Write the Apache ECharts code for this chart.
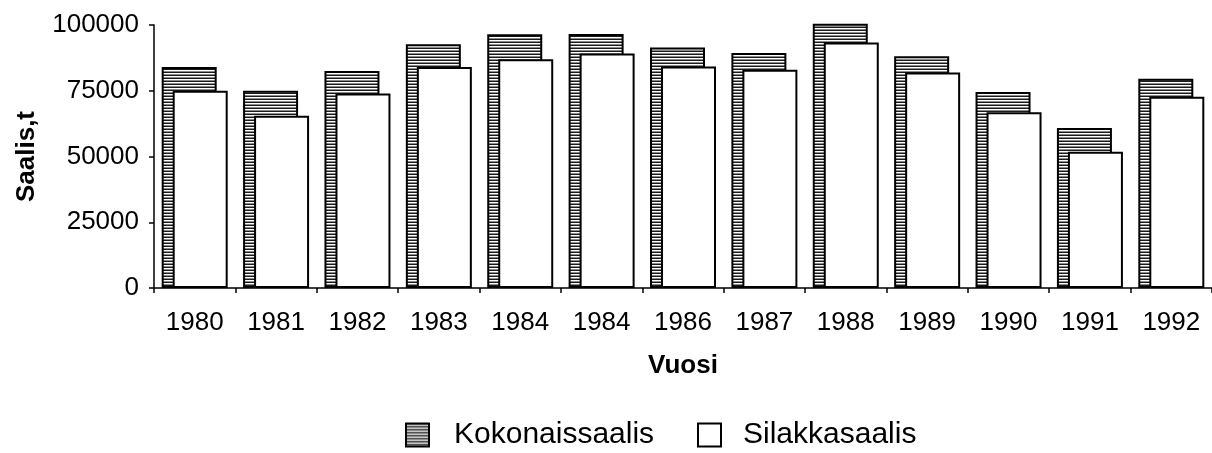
<!DOCTYPE html>
<html>
<head>
<meta charset="utf-8">
<script src="https://cdn.jsdelivr.net/npm/echarts@6/dist/echarts.min.js"></script>
<style>
html,body{margin:0;padding:0;background:#fff;}
#chart{width:1212px;height:453px;}
</style>
</head>
<body>
<div id="chart"></div>
<script>
const years = ['1980','1981','1982','1983','1984','1984','1986','1987','1988','1989','1990','1991','1992'];
const kokonaissaalis = [84000, 75000, 82500, 92700, 96500, 96600, 91400, 89400, 100500, 88100, 74500, 60800, 79600];
const silakkasaalis = [75000, 65500, 74000, 84000, 87000, 89200, 84200, 83000, 93300, 81900, 66800, 51800, 72700];
const yTicks = [0, 25000, 50000, 75000, 100000];

function makePattern() {
  const c = document.createElement('canvas');
  c.width = 4; c.height = 3;
  const g = c.getContext('2d');
  g.fillStyle = '#ffffff'; g.fillRect(0, 0, 4, 3);
  g.fillStyle = '#1a1a1a'; g.fillRect(0, 0, 4, 1);
  g.fillStyle = '#8a8a8a'; g.fillRect(0, 2, 4, 1);
  return c;
}
const pattern = { image: makePattern(), repeat: 'repeat' };
const FONT = 'Liberation Sans';

const chart = echarts.init(document.getElementById('chart'), null, { renderer: 'canvas' });
chart.setOption({
  animation: false,
  backgroundColor: '#ffffff',
  textStyle: { fontFamily: FONT, color: '#000' },
  grid: { left: 154, top: 25, width: 1064, height: 263, containLabel: false },
  legend: [
    {
      top: 420, left: 405, padding: 0,
      itemWidth: 23, itemHeight: 23, icon: 'rect',
      textStyle: { fontFamily: FONT, fontSize: 30, color: '#000', padding: [0, 0, 0, 20] },
      data: ['Kokonaissaalis']
    },
    {
      top: 420, left: 697, padding: 0,
      itemWidth: 23, itemHeight: 23, icon: 'rect',
      textStyle: { fontFamily: FONT, fontSize: 30, color: '#000', padding: [0, 0, 0, 17] },
      data: ['Silakkasaalis']
    }
  ],
  xAxis: {
    type: 'category',
    data: years,
    name: 'Vuosi',
    nameLocation: 'middle',
    nameGap: 65,
    nameTextStyle: { fontFamily: FONT, fontSize: 26, fontWeight: 'bold', color: '#000' },
    axisLine: { lineStyle: { color: '#000', width: 1.5 } },
    axisTick: { show: true, length: 5, lineStyle: { color: '#000', width: 1.5 } },
    axisLabel: { fontFamily: FONT, fontSize: 26, color: '#000', margin: 22 },
    splitLine: { show: false }
  },
  yAxis: {
    type: 'value',
    min: 0,
    max: 100000,
    interval: 25000,
    name: 'Saalis,t',
    nameLocation: 'middle',
    nameGap: 114,
    nameRotate: 90,
    nameTextStyle: { fontFamily: FONT, fontSize: 26, fontWeight: 'bold', color: '#000' },
    axisLine: { show: true, lineStyle: { color: '#000', width: 1.5 } },
    axisTick: { show: true, length: 5, lineStyle: { color: '#000', width: 1.5 } },
    axisLabel: {
      fontFamily: FONT, fontSize: 26, color: '#000', margin: 15,
      formatter: function (v) { return yTicks.indexOf(v) >= 0 ? String(v) : ''; }
    },
    splitLine: { show: false }
  },
  series: [
    {
      name: 'Kokonaissaalis',
      type: 'bar',
      data: kokonaissaalis,
      barWidth: 55,
      barGap: '-80%',
      clip: false,
      itemStyle: { color: pattern, borderColor: '#000', borderWidth: 2 }
    },
    {
      name: 'Silakkasaalis',
      type: 'bar',
      data: silakkasaalis,
      barWidth: 55,
      barGap: '-80%',
      clip: false,
      itemStyle: { color: '#ffffff', borderColor: '#000', borderWidth: 2 }
    }
  ]
});
</script>
</body>
</html>
